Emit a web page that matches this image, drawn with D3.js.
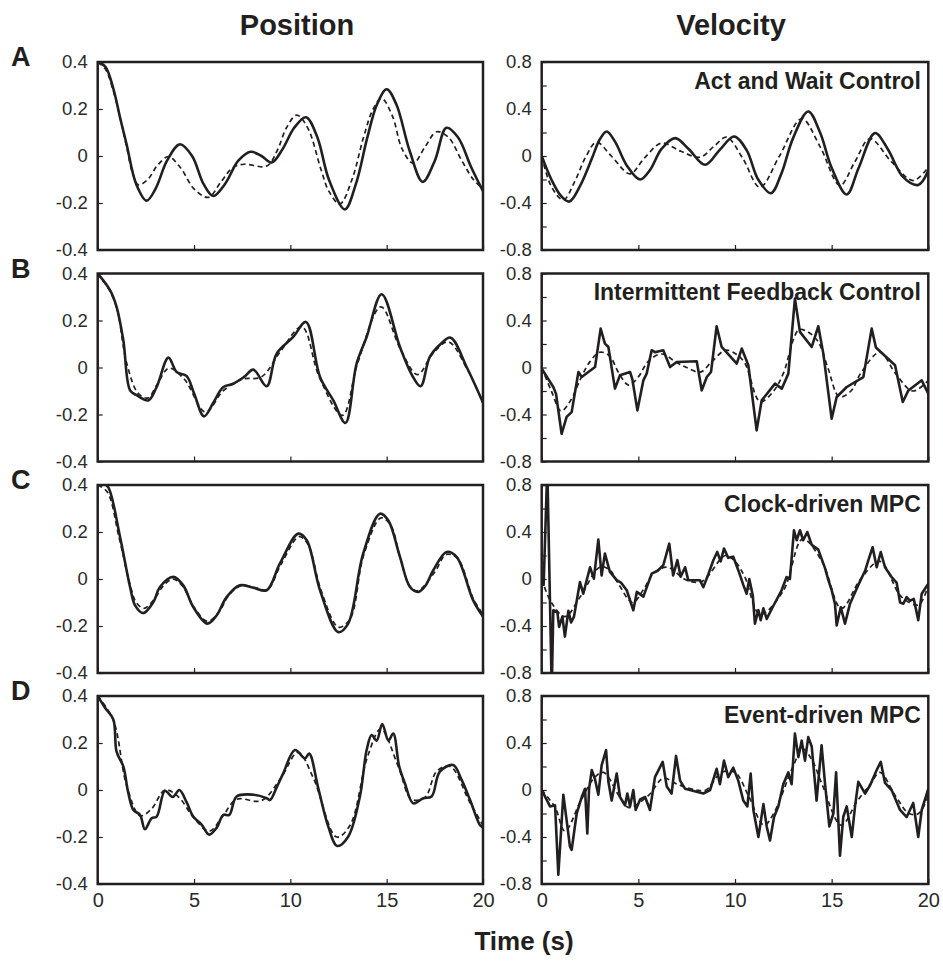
<!DOCTYPE html>
<html>
<head>
<meta charset="utf-8">
<script src="https://cdn.jsdelivr.net/npm/d3@7"></script>
<style>
  html, body { margin: 0; padding: 0; background: #fff; }
  svg { display: block; font-family: "Liberation Sans", Arial, Helvetica, sans-serif; }
</style>
</head>
<body>
<svg id="chart" width="943" height="962"></svg>
<script>
// ---------------- DATA ----------------
const columnTitles = ["Position", "Velocity"];
const panelLetters = ["A", "B", "C", "D"];
const controllerNames = ["Act and Wait Control", "Intermittent Feedback Control", "Clock-driven MPC", "Event-driven MPC"];
const xTicks = [0, 5, 10, 15, 20];
const posTicks = [-0.4, -0.2, 0, 0.2, 0.4];
const velTicks = [-0.8, -0.4, 0, 0.4, 0.8];
const velMinorTicks = [-0.6, -0.2, 0.2, 0.6];
const xLabel = "Time (s)";

// Panel A
const posA_solid = [[0,0.4],[0.4,0.38],[0.8,0.29],[1.2,0.15],[1.5,0.05],[2.0,-0.12],[2.54,-0.19],[3.0,-0.14],[3.6,-0.02],[4.27,0.05],[4.9,0.0],[5.5,-0.12],[6.0,-0.17],[6.6,-0.12],[7.3,-0.02],[7.94,0.018],[8.5,0.0],[9.03,-0.028],[9.6,0.03],[10.2,0.12],[10.81,0.165],[11.4,0.08],[12.0,-0.1],[12.83,-0.227],[13.4,-0.12],[14.0,0.08],[14.5,0.22],[15.0,0.284],[15.5,0.22],[16.2,0.02],[16.87,-0.11],[17.5,-0.02],[18.1,0.12],[18.7,0.08],[19.4,-0.05],[20,-0.15]];
const posA_dashed = [[0,0.4],[0.4,0.37],[0.8,0.28],[1.2,0.15],[1.5,0.04],[1.8,-0.07],[2.11,-0.123],[2.6,-0.1],[3.1,-0.04],[3.67,-0.003],[4.3,-0.05],[5.0,-0.14],[5.74,-0.176],[6.4,-0.11],[7.0,-0.05],[7.6,-0.035],[8.77,-0.043],[9.3,0.02],[9.8,0.12],[10.33,0.174],[10.9,0.12],[11.6,-0.06],[12.0,-0.15],[12.57,-0.204],[13.2,-0.1],[13.8,0.08],[14.3,0.2],[14.74,0.245],[15.3,0.17],[15.8,0.03],[16.38,-0.031],[17.0,0.04],[17.59,0.103],[18.2,0.08],[18.9,-0.02],[19.5,-0.1],[20,-0.14]];
const velA_solid = [[0,0],[0.5,-0.2],[1.0,-0.34],[1.43,-0.388],[2.0,-0.25],[2.6,-0.02],[3.0,0.14],[3.36,0.209],[3.8,0.12],[4.4,-0.08],[5.09,-0.2],[5.6,-0.12],[6.2,0.06],[6.9,0.152],[7.6,0.06],[8.45,-0.075],[9.2,0.05],[9.95,0.166],[10.6,0.05],[11.2,-0.2],[11.86,-0.317],[12.4,-0.15],[13.0,0.15],[13.79,0.379],[14.4,0.2],[15.0,-0.1],[15.78,-0.328],[16.4,-0.1],[17.24,0.195],[17.9,0.06],[18.7,-0.18],[19.48,-0.246],[20,-0.124]];
const velA_dashed = [[0,0],[0.5,-0.26],[1.12,-0.374],[1.7,-0.22],[2.3,0.0],[2.84,0.118],[3.6,0.0],[4.57,-0.152],[5.3,-0.02],[6.2,0.109],[7.2,0.04],[8.19,-0.01],[8.9,0.08],[9.57,0.16],[10.4,-0.02],[11.29,-0.266],[12.3,0.0],[13.45,0.317],[14.4,0.08],[15.43,-0.25],[16.2,-0.05],[16.98,0.147],[18.1,-0.05],[19.22,-0.209],[20,-0.095]];

// Panel B
const posB_solid = [[0,0.4],[0.64,0.329],[0.98,0.258],[1.33,0.116],[1.68,-0.097],[2.02,-0.118],[2.63,-0.14],[3.06,-0.083],[3.67,0.042],[4.1,-0.019],[4.62,-0.037],[5.0,-0.11],[5.52,-0.208],[6.0,-0.15],[6.52,-0.083],[7.04,-0.069],[7.6,-0.04],[8.08,-0.009],[8.77,-0.08],[9.29,0.059],[10.15,0.13],[10.81,0.194],[11.54,-0.04],[12.23,-0.14],[12.86,-0.236],[13.44,0.017],[13.96,0.13],[14.74,0.312],[15.69,0.087],[16.3,-0.03],[16.76,-0.08],[17.24,0.045],[17.8,0.1],[18.32,0.127],[19.15,0.002],[20,-0.15]];
const posB_dashed = [[0,0.4],[0.6,0.33],[1.0,0.25],[1.5,0.02],[2.1,-0.11],[2.6,-0.13],[3.1,-0.07],[3.7,-0.003],[4.5,-0.05],[5.6,-0.19],[6.5,-0.1],[7.5,-0.05],[8.5,-0.04],[9.5,0.07],[10.6,0.173],[11.5,-0.04],[12.7,-0.204],[13.5,0.02],[14.7,0.258],[15.7,0.08],[16.6,-0.03],[17.4,0.06],[18.2,0.109],[19.2,-0.01],[20,-0.15]];
const velB_solid = [[0,-0.01],[0.6,-0.166],[0.74,-0.223],[1.03,-0.564],[1.29,-0.42],[1.55,-0.38],[1.9,-0.038],[2.07,-0.081],[2.76,0.004],[3.05,0.331],[3.27,0.203],[3.45,0.175],[3.79,-0.18],[4.05,-0.066],[4.57,-0.038],[4.69,-0.1],[4.95,-0.365],[5.26,-0.109],[5.43,-0.052],[5.69,0.147],[5.86,0.13],[6.29,0.147],[6.64,0.004],[6.98,0.047],[8.02,0.053],[8.28,-0.195],[8.54,-0.081],[8.76,-0.038],[9.05,0.351],[9.31,0.175],[10.09,0.033],[10.35,0.161],[10.69,0.019],[11.12,-0.535],[11.38,-0.28],[12.07,-0.137],[12.42,-0.18],[12.76,-0.052],[13.1,0.587],[13.36,0.303],[13.97,0.175],[14.31,0.351],[14.57,0.118],[15.0,-0.436],[15.26,-0.251],[15.78,-0.166],[16.64,-0.081],[17.07,0.331],[17.29,0.17],[18.28,0.019],[18.68,-0.294],[18.97,-0.195],[19.66,-0.109],[20,-0.223]];
const velB_dashed = [[0,0],[0.5,-0.2],[1.0,-0.37],[1.5,-0.28],[2.0,-0.1],[2.5,0.05],[3.0,0.13],[3.5,0.1],[4.0,-0.05],[4.5,-0.15],[5.0,-0.08],[5.5,0.05],[6.2,0.115],[7.0,0.04],[7.5,0.0],[8.2,-0.04],[8.8,0.05],[9.5,0.147],[10.0,0.12],[10.5,0.04],[11.3,-0.29],[12.0,-0.2],[12.5,-0.05],[13.3,0.32],[13.8,0.3],[14.3,0.22],[14.8,0.0],[15.4,-0.25],[16.0,-0.2],[16.5,-0.05],[17.5,0.13],[18.3,-0.05],[19.2,-0.2],[20,-0.11]];

// Panel C
const posC_solid = [[0,0.4],[0.3,0.405],[0.55,0.39],[1.16,0.179],[1.68,-0.034],[1.94,-0.112],[2.37,-0.145],[2.89,-0.098],[3.23,-0.034],[3.92,0.009],[4.44,-0.027],[4.96,-0.119],[5.69,-0.19],[6.18,-0.154],[6.69,-0.077],[7.38,-0.027],[8.08,-0.037],[8.77,-0.048],[9.46,0.066],[10.41,0.193],[10.85,0.165],[11.54,-0.048],[12.49,-0.226],[13.0,-0.19],[13.78,0.108],[14.65,0.278],[15.08,0.25],[15.69,0.094],[16.21,-0.034],[16.64,-0.055],[17.0,-0.03],[17.42,0.037],[18.11,0.115],[18.63,0.094],[19.49,-0.091],[20,-0.16]];
const posC_dashed = [[0,0.4],[0.5,0.37],[1.1,0.18],[1.7,-0.03],[2.0,-0.1],[2.4,-0.125],[2.9,-0.09],[3.4,-0.03],[3.9,0.0],[4.4,-0.03],[5.0,-0.12],[5.7,-0.18],[6.3,-0.14],[6.8,-0.07],[7.4,-0.03],[8.1,-0.035],[8.8,-0.045],[9.5,0.06],[10.45,0.18],[10.9,0.15],[11.6,-0.05],[12.5,-0.205],[13.1,-0.17],[13.8,0.1],[14.7,0.26],[15.2,0.23],[15.7,0.09],[16.2,-0.03],[16.6,-0.05],[17.5,0.03],[18.1,0.105],[18.7,0.085],[19.5,-0.085],[20,-0.15]];
const velC_solid = [[0,-0.01],[0.1,-0.05],[0.29,0.95],[0.52,-0.95],[0.6,-0.266],[0.81,-0.28],[0.9,-0.408],[1.07,-0.32],[1.2,-0.49],[1.38,-0.27],[1.52,-0.37],[1.67,-0.32],[1.98,-0.026],[2.15,-0.125],[2.5,0.1],[2.7,0.003],[2.93,0.335],[3.1,0.03],[3.27,0.216],[3.53,0.06],[3.88,-0.01],[4.1,-0.03],[4.4,-0.096],[4.74,-0.266],[4.92,-0.11],[5.26,-0.15],[5.69,0.046],[6.0,0.07],[6.29,0.117],[6.6,0.301],[6.8,0.03],[7.02,0.16],[7.19,0.02],[7.42,0.1],[7.58,-0.01],[8.19,-0.01],[8.36,-0.07],[8.62,0.04],[8.88,0.16],[9.08,0.23],[9.26,0.15],[9.43,0.26],[9.65,0.18],[9.91,0.19],[10.17,0.075],[10.43,-0.05],[10.6,-0.125],[10.74,0.0],[10.92,-0.14],[11.03,-0.38],[11.21,-0.265],[11.33,-0.35],[11.47,-0.25],[11.64,-0.34],[11.98,-0.23],[12.41,-0.096],[12.67,0.017],[12.84,0.0],[13.05,0.415],[13.19,0.33],[13.36,0.415],[13.53,0.33],[13.74,0.4],[13.97,0.29],[14.31,0.25],[14.66,0.09],[14.83,-0.01],[15.0,-0.095],[15.17,-0.21],[15.26,-0.395],[15.47,-0.24],[15.69,-0.38],[15.95,-0.21],[16.38,-0.05],[16.73,0.07],[16.9,0.16],[17.12,0.27],[17.33,0.1],[17.54,0.23],[17.76,0.1],[18.1,0.017],[18.36,-0.03],[18.54,-0.2],[18.71,-0.21],[18.88,-0.155],[19.05,-0.185],[19.25,-0.17],[19.48,-0.35],[19.66,-0.125],[20,-0.04]];
const velC_dashed = [[0,0],[0.5,-0.2],[1.2,-0.32],[2.0,-0.15],[3.0,0.1],[3.5,0.08],[4.0,-0.05],[4.7,-0.2],[5.3,-0.08],[5.8,0.05],[6.5,0.1],[7.5,-0.01],[8.3,-0.02],[9.5,0.2],[10.0,0.15],[10.5,0.02],[11.3,-0.3],[12.5,-0.1],[13.5,0.34],[14.5,0.15],[15.5,-0.25],[16.5,0.0],[17.5,0.15],[18.6,-0.15],[19.5,-0.22],[20,-0.05]];

// Panel D
const posD_solid = [[0,0.4],[0.38,0.35],[0.81,0.3],[0.98,0.163],[1.33,0.1],[1.59,-0.014],[1.85,-0.085],[2.2,-0.106],[2.45,-0.167],[2.8,-0.12],[3.06,-0.113],[3.49,-0.003],[3.89,-0.03],[4.24,0.0],[4.62,-0.053],[4.96,-0.113],[5.4,-0.148],[5.79,-0.19],[6.18,-0.16],[6.52,-0.106],[6.83,-0.106],[7.21,-0.028],[8.08,-0.02],[8.77,-0.035],[8.94,-0.043],[9.29,0.011],[9.63,0.071],[10.24,0.17],[10.76,0.135],[10.98,0.155],[11.45,0.007],[11.97,-0.156],[12.43,-0.238],[13.0,-0.199],[13.61,-0.028],[13.96,0.17],[14.22,0.234],[14.48,0.21],[14.77,0.281],[15.09,0.21],[15.34,0.24],[15.65,0.1],[15.94,0.03],[16.38,-0.057],[16.9,-0.035],[17.33,-0.028],[17.76,0.078],[18.45,0.106],[18.89,0.043],[19.33,-0.043],[19.84,-0.149],[20,-0.16]];
const posD_dashed = [[0,0.4],[0.8,0.3],[1.5,0.02],[2.2,-0.11],[2.8,-0.08],[3.5,0.0],[4.2,-0.03],[5.0,-0.12],[5.8,-0.175],[6.5,-0.11],[7.2,-0.04],[8.5,-0.045],[9.5,0.05],[10.4,0.16],[11.2,0.05],[12.4,-0.2],[13.1,-0.15],[14.0,0.14],[14.7,0.26],[15.6,0.1],[16.3,-0.04],[17.0,-0.03],[17.6,0.08],[18.3,0.1],[19.3,-0.05],[20,-0.15]];
const velD_solid = [[0,0],[0.43,-0.14],[0.69,-0.13],[0.86,-0.72],[1.12,-0.04],[1.33,-0.31],[1.46,-0.48],[1.55,-0.51],[1.81,-0.2],[2.07,-0.06],[2.24,0.01],[2.36,-0.37],[2.45,0.01],[2.59,0.17],[2.76,0.09],[2.93,-0.04],[3.1,0.21],[3.33,0.34],[3.45,0.07],[3.62,-0.09],[3.88,0.14],[4.05,-0.06],[4.31,-0.13],[4.43,-0.03],[4.57,-0.14],[4.74,0.0],[4.86,-0.17],[5.09,-0.08],[5.35,-0.06],[5.6,-0.17],[5.86,0.11],[6.26,0.24],[6.47,0.03],[6.72,-0.03],[6.95,0.29],[7.16,0.08],[7.42,0.01],[8.36,-0.03],[8.71,0.0],[9.05,0.18],[9.22,0.05],[9.43,0.25],[9.65,0.11],[9.91,0.19],[10.17,0.08],[10.43,-0.09],[10.64,-0.14],[10.81,0.14],[10.95,-0.17],[11.21,-0.4],[11.47,-0.12],[11.64,-0.31],[11.81,-0.43],[12.02,-0.23],[12.24,-0.14],[12.5,0.05],[12.76,0.15],[12.93,0.05],[13.1,0.48],[13.28,0.28],[13.45,0.42],[13.62,0.25],[13.79,0.45],[13.97,0.37],[14.22,-0.09],[14.48,0.38],[14.66,0.05],[14.88,-0.31],[15.09,-0.2],[15.23,0.15],[15.43,-0.56],[15.6,-0.23],[15.78,-0.14],[16.04,-0.4],[16.21,-0.14],[16.38,0.07],[16.73,-0.03],[16.99,0.04],[17.33,0.17],[17.54,0.24],[17.76,0.06],[18.1,0.0],[18.54,-0.17],[18.88,-0.23],[19.22,-0.11],[19.48,-0.4],[19.66,-0.17],[20,0.01]];
const velD_dashed = [[0,0],[0.7,-0.15],[1.2,-0.35],[2.0,-0.1],[2.7,0.1],[3.2,0.15],[4.0,-0.05],[4.5,-0.15],[5.5,-0.05],[6.3,0.1],[7.0,0.05],[8.0,0.0],[8.5,0.0],[9.3,0.15],[10.0,0.15],[10.7,-0.05],[11.5,-0.3],[12.0,-0.2],[13.0,0.2],[13.5,0.35],[14.0,0.25],[14.5,0.05],[15.5,-0.3],[16.3,-0.1],[17.0,0.05],[17.5,0.15],[18.3,-0.05],[19.0,-0.2],[19.5,-0.2],[20,-0.05]];

// Panel-to-series table (built from the arrays above)
const posSolid = [posA_solid, posB_solid, posC_solid, posD_solid];
const posDashed = [posA_dashed, posB_dashed, posC_dashed, posD_dashed];
const velSolid = [velA_solid, velB_solid, velC_solid, velD_solid];
const velDashed = [velA_dashed, velB_dashed, velC_dashed, velD_dashed];

// ---------------- LAYOUT ----------------
const ink = "#231f20";
const svg = d3.select("#chart");
const leftX = [97.7, 483];
const rightX = [541.7, 928.3];
const rowTops = [62, 273.5, 485, 696];
const rowH = 188;

const defs = svg.append("defs");
const fmtTick = d => d === 0 ? "0" : d.toFixed(1); // plain hyphen minus, as in the figure

function drawPanel(row, col) {
  const xr = col === 0 ? leftX : rightX;
  const top = rowTops[row], bottom = top + rowH;
  const x = d3.scaleLinear().domain([0, 20]).range(xr);
  const y = col === 0
    ? d3.scaleLinear().domain([-0.4, 0.4]).range([bottom, top])
    : d3.scaleLinear().domain([-0.8, 0.8]).range([bottom, top]);
  const g = svg.append("g");
  const clipId = `clip-${row}-${col}`;
  defs.append("clipPath").attr("id", clipId)
    .append("rect").attr("x", xr[0]).attr("y", top).attr("width", xr[1] - xr[0]).attr("height", rowH);

  // axes
  const yAxis = d3.axisLeft(y)
    .tickValues(col === 0 ? posTicks : velTicks)
    .tickSize(-5).tickPadding(10)
    .tickFormat(fmtTick);
  const ya = g.append("g").attr("transform", `translate(${xr[0]},0)`).call(yAxis);
  ya.select(".domain").remove();
  ya.selectAll("text").attr("font-size", 18.5).attr("fill", "#2a2a2a")
    .attr("font-family", "'Liberation Sans', Arial, sans-serif");
  ya.selectAll("line").attr("stroke", ink).attr("stroke-width", 1.2);
  if (col === 1) {
    const ym = g.append("g").attr("transform", `translate(${xr[0]},0)`)
      .call(d3.axisLeft(y).tickValues(velMinorTicks).tickSize(-5).tickFormat(""));
    ym.select(".domain").remove();
    ym.selectAll("line").attr("stroke", ink).attr("stroke-width", 1.2);
  }
  const xAxis = d3.axisBottom(x).tickValues(xTicks).tickSize(-5).tickPadding(9)
    .tickFormat(row === 3 ? d3.format("d") : "");
  const xa = g.append("g").attr("transform", `translate(0,${bottom})`).call(xAxis);
  xa.select(".domain").remove();
  xa.selectAll("text").attr("font-size", 20).attr("fill", "#2a2a2a")
    .attr("font-family", "'Liberation Sans', Arial, sans-serif");
  xa.selectAll("line").attr("stroke", ink).attr("stroke-width", 1.2);

  // curves
  const smooth = col === 0 || row === 0;
  const line = d3.line().x(d => x(d[0])).y(d => y(d[1]))
    .curve(smooth ? d3.curveCatmullRom.alpha(0.5) : d3.curveLinear);
  const lineDashed = d3.line().x(d => x(d[0])).y(d => y(d[1]))
    .curve(d3.curveCatmullRom.alpha(0.5));
  const solid = col === 0 ? posSolid[row] : velSolid[row];
  const dashed = col === 0 ? posDashed[row] : velDashed[row];
  const lg = g.append("g").attr("clip-path", `url(#${clipId})`);
  lg.append("path").datum(dashed).attr("d", lineDashed)
    .attr("fill", "none").attr("stroke", ink).attr("stroke-width", 1.7)
    .attr("stroke-dasharray", "5,3.5");
  lg.append("path").datum(solid).attr("d", line)
    .attr("fill", "none").attr("stroke", ink).attr("stroke-width", 2.6)
    .attr("stroke-linejoin", "round");

  // frame
  g.append("rect").attr("x", xr[0]).attr("y", top)
    .attr("width", xr[1] - xr[0]).attr("height", rowH)
    .attr("fill", "none").attr("stroke", ink).attr("stroke-width", 2.5);

  if (col === 1) {
    g.append("text").attr("x", xr[1] - 7.5).attr("y", top + 26.5)
      .attr("text-anchor", "end").attr("font-weight", "bold").attr("font-size", 23)
      .attr("fill", ink).text(controllerNames[row]);
  }
  if (col === 0) {
    g.append("text").attr("x", 11).attr("y", top + 4)
      .attr("font-weight", "bold").attr("font-size", 27).attr("fill", ink)
      .text(panelLetters[row]);
  }
}

for (let r = 0; r < 4; r++) { drawPanel(r, 0); drawPanel(r, 1); }

svg.append("text").attr("x", 297).attr("y", 35).attr("text-anchor", "middle")
  .attr("font-weight", "bold").attr("font-size", 29).attr("fill", ink).text(columnTitles[0]);
svg.append("text").attr("x", 731).attr("y", 35).attr("text-anchor", "middle")
  .attr("font-weight", "bold").attr("font-size", 29).attr("fill", ink).text(columnTitles[1]);
svg.append("text").attr("x", 524).attr("y", 950).attr("text-anchor", "middle")
  .attr("font-weight", "bold").attr("font-size", 26).attr("fill", ink).text(xLabel);
</script>
</body>
</html>
